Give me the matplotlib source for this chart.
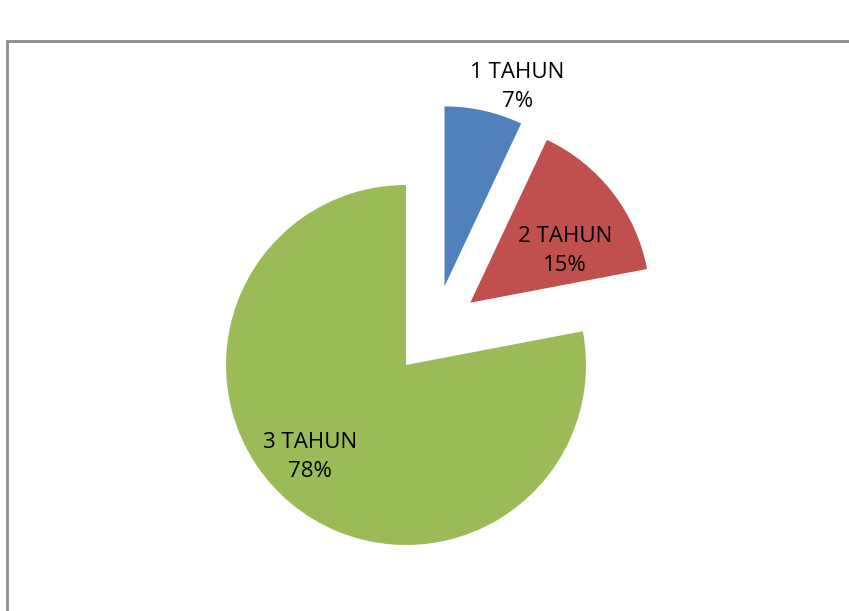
import numpy as np
import matplotlib.pyplot as plt
from matplotlib.patches import Rectangle

# data
labels = ["1 TAHUN", "2 TAHUN", "3 TAHUN"]
values = [7, 15, 78]
colors = ["#4F81BD", "#C0504D", "#9BBB59"]

W, H = 849, 611
fig = plt.figure(figsize=(W / 100, H / 100), dpi=100)
fig.patch.set_facecolor("white")

# chart area box
fig.patches.append(Rectangle((7 / W, -0.05), 1.05, 1 - 41 / H + 0.05,
                             transform=fig.transFigure, facecolor="white",
                             edgecolor="#8a8a8a", linewidth=2, zorder=1))

ax = fig.add_axes([0, 0, 1, 1], zorder=2)
ax.patch.set_alpha(0)

center = (434.7, H - 330.3)
radius = 180
gap = 45  # explode distance, same units as radius
wedges, _ = ax.pie(values, colors=colors, startangle=90, counterclock=False,
                   explode=[gap] * 3, radius=radius, center=center,
                   wedgeprops=dict(linewidth=0))
ax.set_xlim(0, W)
ax.set_ylim(0, H)
ax.set_aspect("equal")
ax.axis("off")

# label placement: (distance factor, angle tweak in degrees)
place = [(1.18, -7.5), (0.60, -9), (0.74, -6.6)]
for w, lab, v, (f, dt) in zip(wedges, labels, values, place):
    mid = np.deg2rad((w.theta1 + w.theta2) / 2 + dt)
    cx, cy = w.center
    ax.text(cx + f * radius * np.cos(mid), cy + f * radius * np.sin(mid),
            f"{lab}\n{v}%", ha="center", va="center", fontsize=16,
            family="Open Sans", linespacing=1.5)

fig.savefig("out.png", dpi=100)
